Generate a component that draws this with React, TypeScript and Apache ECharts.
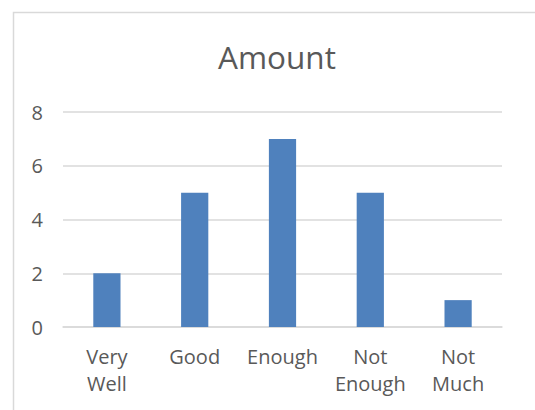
import React, { useEffect, useRef } from "react";
import * as echarts from "echarts";

const categories = ["Very\nWell", "Good", "Enough", "Not\nEnough", "Not\nMuch"];
const amounts = [2, 5, 7, 5, 1];
const titleText = "Amount";

export default function App() {
  const ref = useRef<HTMLDivElement>(null);
  useEffect(() => {
    if (!ref.current) return;
    const chart = echarts.init(ref.current, null, { renderer: "svg" });
    const font = "'Open Sans', 'DejaVu Sans', sans-serif";
    chart.setOption({
      animation: false,
      backgroundColor: "#ffffff",
      title: {
        text: titleText,
        left: 218,
        top: 40,
        padding: 0,
        textStyle: { fontFamily: font, fontSize: 31.5, fontWeight: "normal", color: "#595959" },
      },
      graphic: [
        {
          type: "rect",
          shape: { x: 13.5, y: 12.5, width: 700, height: 600 },
          style: { fill: "none", stroke: "#d9d9d9", lineWidth: 1.5 },
          silent: true,
        },
      ],
      grid: { left: 63, right: 33, top: 112, bottom: 83, containLabel: false },
      xAxis: {
        type: "category",
        data: categories,
        axisLine: { show: true, lineStyle: { color: "#d9d9d9", width: 1.5 } },
        axisTick: { show: false },
        axisLabel: {
          fontFamily: font,
          fontSize: 20,
          color: "#595959",
          lineHeight: 27,
          margin: 16,
          interval: 0,
        },
      },
      yAxis: {
        type: "value",
        min: 0,
        max: 8,
        interval: 2,
        axisLine: { show: false },
        axisTick: { show: false },
        splitLine: { lineStyle: { color: "#d9d9d9", width: 1.5 } },
        axisLabel: { fontFamily: font, fontSize: 20, color: "#595959", margin: 20 },
      },
      series: [
        {
          type: "bar",
          data: amounts,
          barWidth: "31%",
          itemStyle: { color: "#4f81bd" },
        },
      ],
    });
    return () => chart.dispose();
  }, []);
  return (
    <div
      ref={ref}
      style={{ position: "fixed", left: 0, top: 0, width: 535, height: 410 }}
    />
  );
}
